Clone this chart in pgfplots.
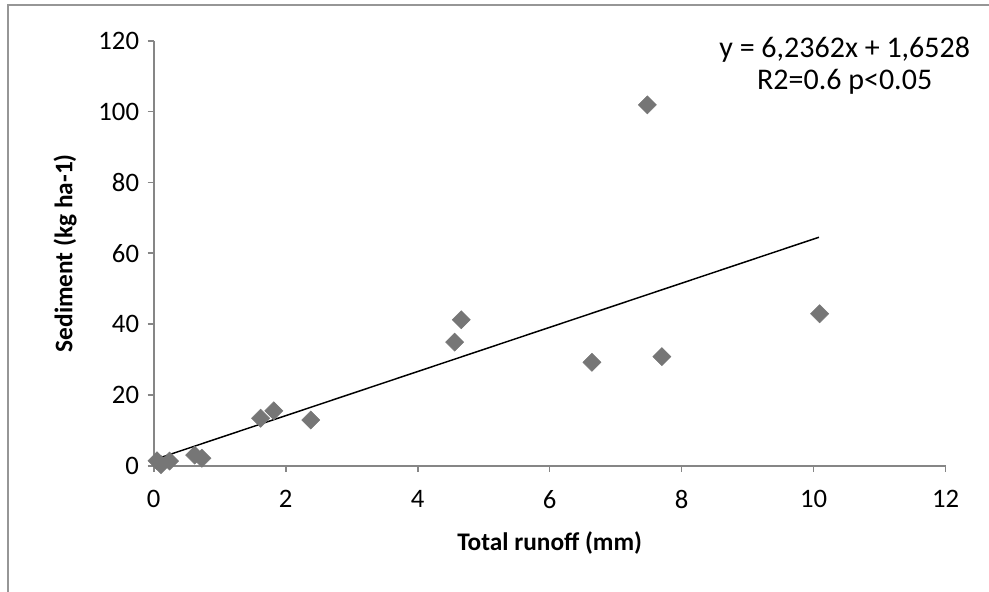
\documentclass[border=0pt]{standalone}
\usepackage{fontspec}
\setmainfont{Carlito}
\usepackage{pgfplots}
\pgfplotsset{compat=1.18}

\definecolor{axisgray}{RGB}{134,134,134}
\definecolor{framegray}{RGB}{150,150,150}
\definecolor{markgray}{RGB}{118,118,118}

\begin{document}
\begin{tikzpicture}
% 1 px of the reference = 0.75pt; axis origin sits at (0,0)
\useasboundingbox (-115.3pt,-94.7pt) rectangle (626.5pt,349.3pt);
\draw[framegray, line width=1pt] (-109.3pt,-120pt) rectangle (640pt,345.5pt);
\begin{axis}[
  at={(0,0)}, anchor=south west,
  scale only axis, width=594pt, height=318.75pt,
  xmin=0, xmax=12, ymin=0, ymax=120,
  xtick={0,2,...,12}, ytick={0,20,...,120},
  axis x line=bottom, axis y line=left,
  axis line style={-, axisgray, line width=1.2pt},
  tick style={axisgray, line width=1.2pt},
  tick align=outside, major tick length=4.5pt,
  /pgf/number format/assume math mode=true,
  tick label style={font=\fontsize{20}{24}\selectfont},
  xticklabel style={yshift=-10.5pt},
  yticklabel style={xshift=-3pt},
  every axis x label/.style={at={(axis description cs:0.5,-0.181)}, anchor=center},
  every axis y label/.style={at={(axis description cs:-0.112,0.5)}, rotate=90, anchor=center},
  label style={font=\fontsize{19}{23}\selectfont\bfseries},
  xlabel={Total runoff (mm)},
  ylabel={Sediment (kg ha-1)},
  clip=false,
]
\addplot[only marks, mark=square*, mark size=4.8pt,
  mark options={rotate=45, fill=markgray, draw=markgray}]
  coordinates {
  (0.05,1.4) (0.11,0.3) (0.24,1.3) (0.62,3.0) (0.73,2.1)
  (1.62,13.4) (1.82,15.5) (2.38,12.9)
  (4.56,34.9) (4.66,41.2) (6.64,29.2) (7.48,101.9)
  (7.70,30.8) (10.09,42.9)
  };
\addplot[black, line width=1.1pt] coordinates {(0.05,1.965) (10.08,64.51)};
\node[align=center, font=\fontsize{22.5}{24}\selectfont] at (axis cs:10.47,112.9)
  {y = 6,2362x + 1,6528\\R2=0.6 p<0.05};
\end{axis}
\end{tikzpicture}
\end{document}
